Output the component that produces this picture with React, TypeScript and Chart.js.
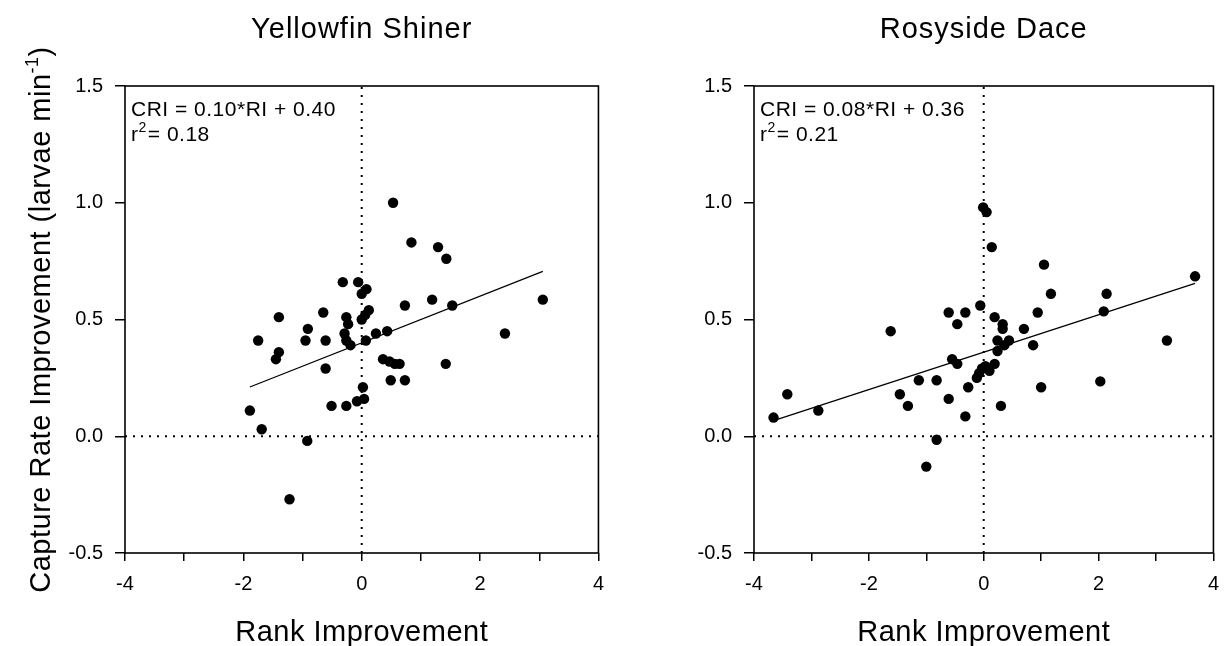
import { useEffect, useRef } from 'react';
import { Chart, registerables } from 'chart.js';

Chart.register(...registerables);

// Yellowfin Shiner: rank improvement vs capture rate improvement
const yellowfinRank = [
  0.53, 0.84, 1.29, 1.43, -0.32, -0.06, 0.08, 0.0, -0.65, 0.73,
  -1.4, -0.26, -0.23, 0.0, 0.06, 0.12, -0.91, -0.95, -1.75, -0.61,
  -0.29, -0.26, -0.19, 0.07, 0.24, 0.43, -1.4, -1.45, -0.61, 0.36,
  0.47, 0.56, 0.64, 0.49, 0.73, 0.02, -0.08, 0.04, -0.26, -0.51,
  -1.89, -1.69, -0.92, -1.22, 1.19, 1.53, 3.06, 2.42, 1.42,
];
const yellowfinCapture = [
  1.0, 0.83, 0.81, 0.76, 0.66, 0.66, 0.63, 0.61, 0.53, 0.56,
  0.51, 0.51, 0.48, 0.5, 0.52, 0.54, 0.46, 0.41, 0.41, 0.41,
  0.44, 0.41, 0.39, 0.41, 0.44, 0.45, 0.36, 0.33, 0.29, 0.33,
  0.32, 0.31, 0.31, 0.24, 0.24, 0.21, 0.15, 0.16, 0.13, 0.13,
  0.11, 0.03, -0.02, -0.27, 0.585, 0.56, 0.585, 0.44, 0.31,
];

// Rosyside Dace: rank improvement vs capture rate improvement
const rosysideRank = [
  -1.62, -3.42, -3.66, -2.88, -1.46, -1.32, -0.01, 0.05, 0.14, 1.05,
  1.17, -0.61, -0.32, -0.06, -0.46, 0.19, 0.33, 0.33, 0.94, 0.7,
  0.44, 0.24, 0.24, 0.36, 0.86, -0.55, -0.46, 0.19, -0.12, -0.08,
  -0.03, 0.03, 0.1, -1.13, -0.82, -0.27, -0.61, 0.3, 1.0, -0.32,
  -0.82, -1.0, 2.14, 2.09, 3.68, 3.19, 2.03,
];
const rosysideCapture = [
  0.45, 0.18, 0.08, 0.11, 0.18, 0.13, 0.98, 0.96, 0.81, 0.735,
  0.61, 0.53, 0.53, 0.56, 0.48, 0.51, 0.48, 0.46, 0.53, 0.46,
  0.41, 0.41, 0.365, 0.39, 0.39, 0.33, 0.31, 0.31, 0.25, 0.27,
  0.29, 0.3, 0.28, 0.24, 0.24, 0.21, 0.16, 0.13, 0.21, 0.085,
  -0.015, -0.13, 0.61, 0.535, 0.685, 0.41, 0.235,
];

// Fitted regressions (CRI = slope*RI + intercept)
const yellowfinFit = [0.1, 0.4];
const yellowfinR2 = 0.18;
const rosysideFit = [0.08, 0.36];
const rosysideR2 = 0.21;

// Axis ranges and tick steps
const xRange = [-4, 4];
const yRange = [-0.5, 1.5];
const xStep = 1;
const yStep = 0.5;

const FONT = "'Liberation Sans', Arial, Helvetica, sans-serif";
const W = 615;
const H = 646;

type PanelProps = {
  title: string;
  rank: number[];
  capture: number[];
  fit: number[];
  r2: number;
  offset: number;
  plotLeft: number;
  plotRight: number;
  showYTitle: boolean;
};

function setSpacing(ctx: any, px: number) {
  if ('letterSpacing' in ctx) ctx.letterSpacing = `${px}px`;
}

function Panel({ title, rank, capture, fit, r2, offset, plotLeft, plotRight, showYTitle }: PanelProps) {
  const ref = useRef<HTMLCanvasElement>(null);

  useEffect(() => {
    const canvas = ref.current;
    if (!canvas) return;
    const [slope, intercept] = fit;
    const lo = Math.min(...rank);
    const hi = Math.max(...rank);
    const points = rank.map((x, i) => ({ x, y: capture[i] }));

    const panelText = {
      id: 'panelText',
      afterDraw(chart: any) {
        const { ctx, chartArea: a } = chart;
        ctx.save();
        // plot frame
        ctx.strokeStyle = '#000';
        ctx.lineWidth = 1.6;
        ctx.strokeRect(a.left, a.top, a.right - a.left, a.bottom - a.top);

        ctx.fillStyle = '#000';
        ctx.textBaseline = 'alphabetic';
        const cx = (a.left + a.right) / 2;

        // panel title
        ctx.font = `29px ${FONT}`;
        setSpacing(ctx, 1);
        ctx.textAlign = 'center';
        ctx.fillText(title, cx, 38);

        // x axis title
        ctx.font = `29px ${FONT}`;
        setSpacing(ctx, 0.5);
        ctx.fillText('Rank Improvement', cx, 641);

        // regression equation
        ctx.textAlign = 'left';
        ctx.font = `21px ${FONT}`;
        setSpacing(ctx, 0.5);
        const ex = a.left + 6;
        ctx.fillText(`CRI = ${slope.toFixed(2)}*RI + ${intercept.toFixed(2)}`, ex, a.top + 30);
        ctx.fillText('r', ex, a.top + 55);
        const rw = ctx.measureText('r').width;
        ctx.font = `14px ${FONT}`;
        ctx.fillText('2', ex + rw, a.top + 46);
        const sw = ctx.measureText('2').width;
        ctx.font = `21px ${FONT}`;
        ctx.fillText(`= ${r2.toFixed(2)}`, ex + rw + sw + 1, a.top + 55);

        // y axis title with superscript unit
        if (showYTitle) {
          const main = 'Capture Rate Improvement (larvae min';
          const sup = '-1';
          const tail = ')';
          ctx.translate(39, (a.top + a.bottom) / 2);
          ctx.rotate(-Math.PI / 2);
          setSpacing(ctx, 0.5);
          ctx.font = `29px ${FONT}`;
          const mw = ctx.measureText(main).width;
          const tw = ctx.measureText(tail).width;
          ctx.font = `18px ${FONT}`;
          const supW = ctx.measureText(sup).width;
          const total = mw + supW + tw;
          let x = -total / 2;
          ctx.font = `29px ${FONT}`;
          ctx.fillText(main, x, 11);
          x += mw;
          ctx.font = `18px ${FONT}`;
          ctx.fillText(sup, x, -1);
          x += supW;
          ctx.font = `29px ${FONT}`;
          ctx.fillText(tail, x, 11);
        }
        ctx.restore();
      },
    };

    const chart = new Chart(canvas, {
      type: 'scatter',
      data: {
        datasets: [
          {
            type: 'scatter',
            data: points,
            pointRadius: 5.2,
            pointHoverRadius: 5.2,
            backgroundColor: '#000',
            borderColor: '#000',
            borderWidth: 0,
          },
          {
            type: 'line',
            data: [
              { x: lo, y: slope * lo + intercept },
              { x: hi, y: slope * hi + intercept },
            ],
            borderColor: '#000',
            borderWidth: 1.3,
            pointRadius: 0,
            fill: false,
          },
          {
            type: 'line',
            data: [
              { x: xRange[0], y: 0 },
              { x: xRange[1], y: 0 },
            ],
            borderColor: '#000',
            borderWidth: 2,
            borderDash: [2, 6],
            pointRadius: 0,
            fill: false,
          },
          {
            type: 'line',
            data: [
              { x: 0, y: yRange[0] },
              { x: 0, y: yRange[1] },
            ],
            borderColor: '#000',
            borderWidth: 2,
            borderDash: [2, 6],
            pointRadius: 0,
            fill: false,
          },
        ],
      } as any,
      options: {
        responsive: false,
        animation: false,
        events: [],
        layout: { padding: { top: 86, right: W - plotRight, left: 0, bottom: 0 } },
        plugins: {
          legend: { display: false },
          tooltip: { enabled: false },
          title: { display: false },
        },
        scales: {
          x: {
            type: 'linear',
            min: xRange[0],
            max: xRange[1],
            afterFit: (s: any) => {
              s.height = H - 553;
            },
            ticks: {
              stepSize: xStep,
              autoSkip: false,
              maxRotation: 0,
              color: '#000',
              padding: 11,
              font: { family: FONT, size: 20 },
              callback: (v: any) => (Math.abs(Number(v) % 2) < 1e-9 ? String(v) : ''),
            },
            grid: {
              drawOnChartArea: false,
              drawTicks: true,
              tickLength: 8,
              color: '#000',
              lineWidth: 1.5,
            },
            border: { display: false },
          },
          y: {
            type: 'linear',
            min: yRange[0],
            max: yRange[1],
            afterFit: (s: any) => {
              s.width = plotLeft;
            },
            ticks: {
              stepSize: yStep,
              color: '#000',
              padding: 12,
              font: { family: FONT, size: 20 },
              callback: (v: any) => Number(v).toFixed(1),
            },
            grid: {
              drawOnChartArea: false,
              drawTicks: true,
              tickLength: 10,
              color: '#000',
              lineWidth: 1.5,
            },
            border: { display: false },
          },
        },
      } as any,
      plugins: [panelText],
    });

    return () => chart.destroy();
  }, [title, rank, capture, fit, r2, plotLeft, plotRight, showYTitle]);

  return (
    <canvas
      ref={ref}
      width={W}
      height={H}
      style={{ position: 'absolute', left: offset, top: 0, width: W, height: H }}
    />
  );
}

export default function App() {
  return (
    <div
      style={{
        position: 'absolute',
        left: 0,
        top: 0,
        width: 1230,
        height: 646,
        background: '#fff',
        overflow: 'hidden',
      }}
    >
      <Panel
        title="Yellowfin Shiner"
        rank={yellowfinRank}
        capture={yellowfinCapture}
        fit={yellowfinFit}
        r2={yellowfinR2}
        offset={0}
        plotLeft={125}
        plotRight={599}
        showYTitle={true}
      />
      <Panel
        title="Rosyside Dace"
        rank={rosysideRank}
        capture={rosysideCapture}
        fit={rosysideFit}
        r2={rosysideR2}
        offset={615}
        plotLeft={139}
        plotRight={609}
        showYTitle={false}
      />
    </div>
  );
}
